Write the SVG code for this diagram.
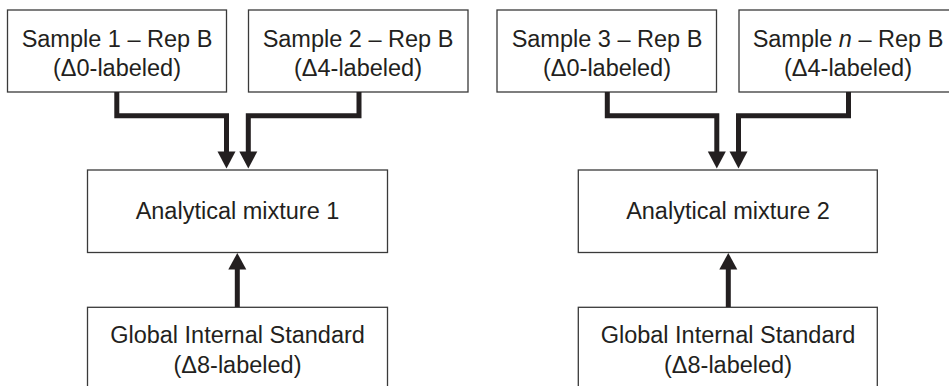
<svg xmlns="http://www.w3.org/2000/svg" width="949" height="386" viewBox="0 0 949 386">
<style>
.box{fill:#fff;stroke:#3a3a3a;stroke-width:1.3}
.t{font-family:"Liberation Sans",Arial,sans-serif;font-size:23.5px;fill:#231f20;text-anchor:middle}
.c{fill:none;stroke:#231f20;stroke-width:5;stroke-linejoin:miter;stroke-linecap:butt}
.h{fill:#231f20}
</style>
<rect width="949" height="386" fill="#fff"/>
<g id="sample1"><rect class="box" x="7.5" y="10" width="219" height="82"/><text class="t" x="117" y="46.7">Sample 1 – Rep B</text><text class="t" x="117" y="76">(Δ0-labeled)</text></g>
<g id="sample2"><rect class="box" x="248.5" y="10" width="219.5" height="82"/><text class="t" x="358" y="46.7">Sample 2 – Rep B</text><text class="t" x="358" y="76">(Δ4-labeled)</text></g>
<g id="sample3"><rect class="box" x="497" y="10" width="219.5" height="82"/><text class="t" x="607" y="46.7">Sample 3 – Rep B</text><text class="t" x="607" y="76">(Δ0-labeled)</text></g>
<g id="samplen"><rect class="box" x="739" y="10" width="220" height="82"/><text class="t" x="848" y="46.7">Sample <tspan font-style="italic">n</tspan> – Rep B</text><text class="t" x="848" y="76">(Δ4-labeled)</text></g>
<g id="mix1"><rect class="box" x="87.5" y="170" width="300" height="82.5"/><text class="t" x="237.5" y="219.3">Analytical mixture 1</text></g>
<g id="mix2"><rect class="box" x="578.3" y="170" width="299" height="82.5"/><text class="t" x="728" y="219.3">Analytical mixture 2</text></g>
<g id="gis1"><rect class="box" x="87.5" y="307.3" width="300" height="90"/><text class="t" x="237.5" y="343.3">Global Internal Standard</text><text class="t" x="237.5" y="372.7">(Δ8-labeled)</text></g>
<g id="gis2"><rect class="box" x="578.3" y="307.3" width="299" height="90"/><text class="t" x="728" y="343.3">Global Internal Standard</text><text class="t" x="728" y="372.7">(Δ8-labeled)</text></g>
<g id="connectors">
<path class="c" d="M116.8 92 V115.7 H226.5 V152.5"/>
<polygon class="h" points="217.5,151.5 235.5,151.5 226.5,168.5"/>
<path class="c" d="M359 92 V115.7 H248.3 V152.5"/>
<polygon class="h" points="239.3,151.5 257.3,151.5 248.3,168.5"/>
<path class="c" d="M607.3 92 V115.7 H716.8 V152.5"/>
<polygon class="h" points="707.8,151.5 725.8,151.5 716.8,168.5"/>
<path class="c" d="M848.5 92 V115.7 H738.5 V152.5"/>
<polygon class="h" points="729.5,151.5 747.5,151.5 738.5,168.5"/>
<path class="c" d="M237.3 307 V268"/>
<polygon class="h" points="228.3,269.5 246.3,269.5 237.3,253"/>
<path class="c" d="M728.3 307 V268"/>
<polygon class="h" points="719.3,269.5 737.3,269.5 728.3,253"/>
</g>
</svg>
